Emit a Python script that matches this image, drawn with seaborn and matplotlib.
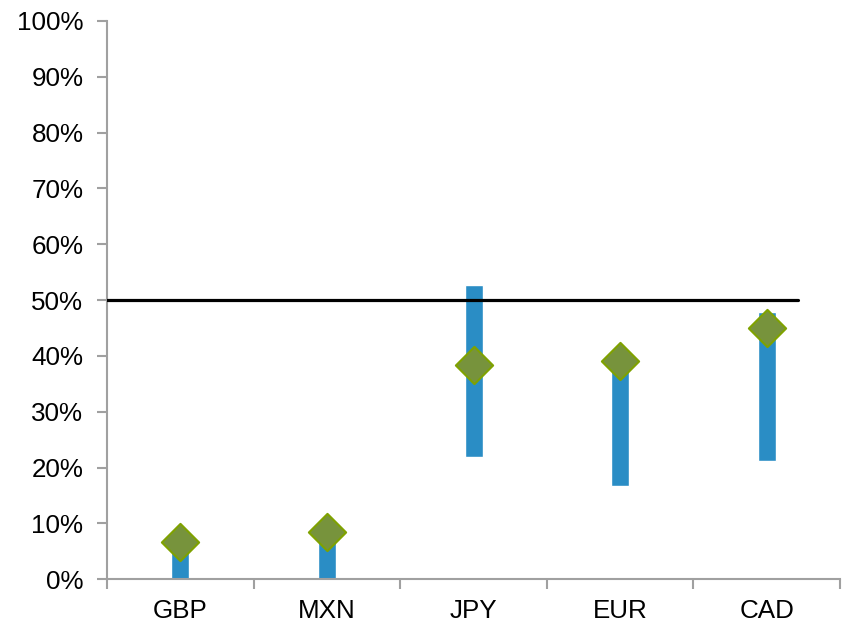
import matplotlib
matplotlib.use("Agg")
import matplotlib.pyplot as plt
from matplotlib.ticker import PercentFormatter, FixedLocator
import seaborn as sns
import pandas as pd

# Currency ranges (low/high) and current reading, in percent
currencies = ["GBP", "MXN", "JPY", "EUR", "CAD"]
range_low = [0.0, 0.0, 21.9, 16.8, 21.2]
range_high = [6.5, 8.0, 52.8, 38.5, 47.8]
current = [6.7, 8.4, 38.3, 39.1, 45.1]
threshold = 50.0

df = pd.DataFrame({
    "currency": currencies,
    "low": range_low,
    "span": [h - l for h, l in zip(range_high, range_low)],
    "current": current,
})

sns.set_theme(style="white")
plt.rcParams["font.family"] = ["Liberation Sans", "DejaVu Sans"]

fig = plt.figure(figsize=(8.46, 6.23), dpi=100)
ax = fig.add_axes([0.1265, 0.0701, 0.8665, 0.8962])

# Range bars
sns.barplot(data=df, x="currency", y="span", bottom=df["low"].values,
            color="#2A8DC5", saturation=1, width=0.123, ax=ax, zorder=2)

# Current value markers
sns.scatterplot(data=df, x="currency", y="current", marker="D", s=360,
                color="#77933C", edgecolor="#7FA200", linewidth=1.5,
                ax=ax, zorder=4, legend=False)

# 50% reference line
ax.plot([-0.5, 4.21], [threshold, threshold], color="black", lw=2.3, zorder=3)

ax.set_xlim(-0.5, 4.5)
ax.set_ylim(0, 100)
ax.yaxis.set_major_locator(FixedLocator(range(0, 101, 10)))
ax.yaxis.set_major_formatter(PercentFormatter(decimals=0))
ax.set_xlabel("")
ax.set_ylabel("")

# Category boundaries carry the x ticks; labels sit at the centres
ax.set_xticks([i for i in range(5)])
ax.set_xticklabels(currencies)
ax.set_xticks([i - 0.5 for i in range(6)], minor=True)
ax.tick_params(axis="x", which="major", length=0, pad=14, labelsize=18.7, colors="black")
ax.tick_params(axis="x", which="minor", length=7, width=1.5, color="#A0A0A0", direction="out")
ax.tick_params(axis="y", which="major", length=7, width=1.5, color="#A0A0A0",
               direction="out", labelsize=18.7, labelcolor="black", pad=10)
ax.tick_params(axis="both", which="both", bottom=True, left=True)

for side in ["top", "right"]:
    ax.spines[side].set_visible(False)
for side in ["left", "bottom"]:
    ax.spines[side].set_color("#A0A0A0")
    ax.spines[side].set_linewidth(1.5)
ax.grid(False)

fig.savefig("out.png", dpi=100)
